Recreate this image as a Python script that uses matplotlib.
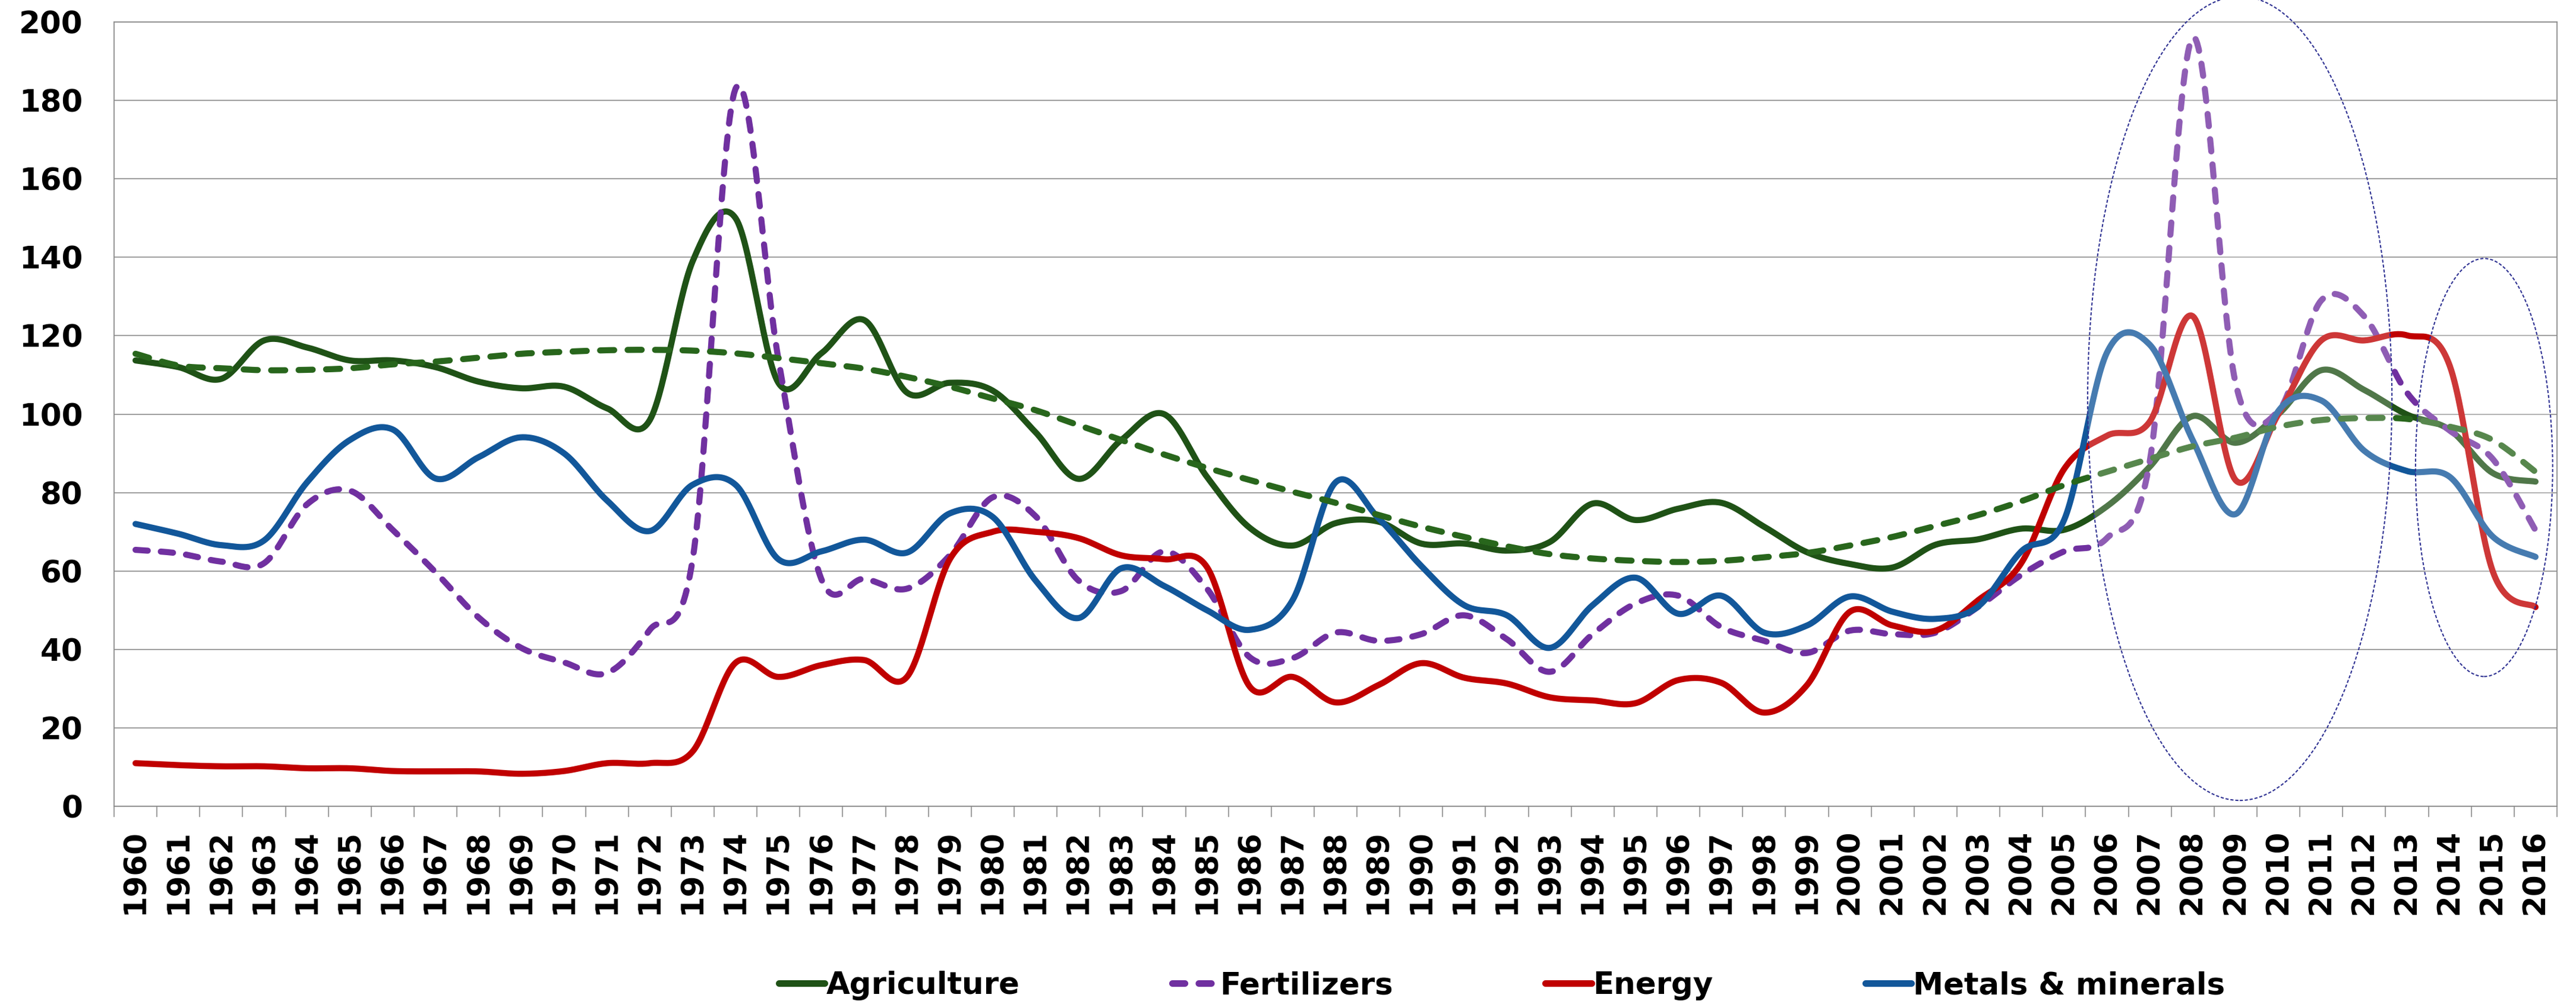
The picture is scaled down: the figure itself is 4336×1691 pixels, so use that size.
import matplotlib
matplotlib.use("Agg")
import matplotlib.pyplot as plt
from matplotlib.patches import Ellipse
from matplotlib.lines import Line2D
import numpy as np

years = list(range(1960, 2017))

agriculture = [113.7, 112, 109, 118.8, 117, 113.7, 113.7, 112, 108.3, 106.6,
               107, 101.5, 98.5, 139, 150, 108, 115.5, 124, 105.5, 108,
               106, 95.4, 83.5, 93.4, 100, 84, 71, 66.5, 72.2, 72.6,
               67, 67, 65.2, 67.4, 77.2, 73, 75.9, 77.4, 71.3, 64.8,
               61.8, 60.9, 66.7, 68.1, 70.8, 70.5, 76.5, 86.6, 99.5, 92.7,
               100, 111.2, 106.2, 99.9, 96, 85, 82.8]

fertilizers = [65.4, 64.5, 62.4, 62, 77, 80.5, 70.5, 59.7, 48.2, 40.4,
               36.7, 34, 45, 63, 183, 114, 58, 58, 55.5, 64,
               78.8, 74, 57.6, 54.9, 65, 55.5, 38, 37.8, 44.3, 42.2,
               43.9, 48.7, 42.6, 34.3, 43.9, 51.7, 53.7, 45.7, 42.2, 39.1,
               44.8, 43.9, 44.3, 50.9, 59, 65, 68.4, 88, 196, 108,
               100.8, 129, 125, 105.5, 95.8, 88.6, 70.4]

energy = [11, 10.5, 10.2, 10.2, 9.7, 9.7, 9, 8.9, 8.9, 8.3,
          9, 11, 11, 14, 36.6, 33, 36, 37.3, 33, 63,
          70, 70, 68.4, 64, 63, 61, 30.5, 33, 26.5, 30.9,
          36.5, 32.8, 31.3, 27.8, 27, 26.3, 32.2, 31.5, 23.9, 30.9,
          49.6, 46.1, 44.8, 52.6, 62, 86, 94.5, 98.1, 125, 83.2,
          100, 118.8, 118.8, 120.1, 112.3, 60, 50.8]

metals = [72, 69.5, 66.6, 67.8, 82.6, 93.4, 96.1, 83.6, 89, 94.1,
          90, 78, 70.2, 82, 82, 63, 65, 68, 64.7, 74.7,
          73.8, 57.6, 48, 60.7, 56.2, 50, 45, 52.6, 82.6, 73.5,
          61.3, 51.3, 48.7, 40.4, 51.3, 58.3, 49.1, 53.7, 44.3, 46.1,
          53.5, 49.6, 47.8, 51, 65, 73, 115.7, 117.7, 93.4, 74.5,
          100.8, 103.5, 90.7, 85.5, 84, 68.8, 63.6]

# agriculture polynomial trend, as drawn
agri_trend = [115.4, 112.4, 111.7, 111.2, 111.3, 111.7, 112.7, 113.4, 114.4, 115.4,
              115.9, 116.3, 116.4, 116.2, 115.5, 114.3, 113, 111.6, 109.5, 107,
              104, 101, 97.2, 93.4, 89.7, 86.3, 83.2, 80.2, 77.4, 74.3,
              71.3, 68.7, 66.3, 64.3, 63.2, 62.6, 62.3, 62.6, 63.5, 64.6,
              66.5, 68.7, 71.5, 74.3, 77.8, 81.9, 85.3, 88.6, 91.8, 94,
              96.8, 98.5, 99, 98.8, 96.8, 93.4, 85.3]

# highlighted periods: (center year index, center value, width, height)
highlights = [(49.1, 104, 7.1, 205), (54.8, 86.4, 3.2, 106.6)]

C_AGR = "#1f5216"
C_TREND = "#28661c"
C_FER = "#7030a0"
C_ENE = "#c00000"
C_MET = "#12579a"


def smooth(y, n=30):
    # excel-like smoothed line: bezier through points, catmull-rom tangents
    y = np.asarray(y, dtype=float)
    x = np.arange(len(y), dtype=float)
    pts = np.column_stack([x, y])
    pts = np.vstack([pts[0], pts, pts[-1]])
    t = np.linspace(0, 1, n)[:, None]
    out = []
    for i in range(1, len(pts) - 2):
        p0, p1, p2, p3 = pts[i - 1], pts[i], pts[i + 1], pts[i + 2]
        c1 = p1 + (p2 - p0) / 6
        c2 = p2 - (p3 - p1) / 6
        seg = ((1 - t) ** 3) * p1 + 3 * ((1 - t) ** 2) * t * c1 + 3 * (1 - t) * t ** 2 * c2 + t ** 3 * p2
        out.append(seg if i == 1 else seg[1:])
    out = np.vstack(out)
    return out[:, 0], out[:, 1]


plt.rcParams["font.family"] = "DejaVu Sans"
plt.rcParams["font.weight"] = "bold"

fig = plt.figure(figsize=(43.36, 16.91), dpi=100)
ax = fig.add_axes([0.0443, 0.1969, 0.9483, 0.7812])

lw = 7.4
x, y = smooth(agriculture)
ax.plot(x, y, color=C_AGR, lw=lw, solid_capstyle="round", zorder=3)
x, y = smooth(fertilizers)
ax.plot(x, y, color=C_FER, lw=lw, dashes=(2.0, 2.15), dash_capstyle="round", zorder=3)
x, y = smooth(energy)
ax.plot(x, y, color=C_ENE, lw=lw, solid_capstyle="round", zorder=3)
x, y = smooth(metals)
ax.plot(x, y, color=C_MET, lw=lw, solid_capstyle="round", zorder=3)
x, y = smooth(agri_trend)
ax.plot(x, y, color=C_TREND, lw=lw, dashes=(2.3, 2.2), dash_capstyle="round", zorder=4)

for cx, cy, w, h in highlights:
    e = Ellipse((cx, cy), w, h, facecolor=(1, 1, 1, 0.22), edgecolor="#2e3192",
                lw=1.5, linestyle=(0, (2.5, 1.5)), clip_on=False, zorder=6)
    ax.add_patch(e)

ax.set_xlim(-0.5, len(years) - 0.5)
ax.set_ylim(0, 200)
ax.set_yticks(range(0, 201, 20))
ax.set_yticklabels([str(v) for v in range(0, 201, 20)], fontsize=37, fontweight="bold")
ax.set_xticks(range(len(years)))
ax.set_xticklabels([str(yr) for yr in years], rotation=90, fontsize=37, fontweight="bold")
ax.set_xticks(np.arange(-0.5, len(years), 1.0), minor=True)
ax.tick_params(axis="x", which="major", length=0, pad=28)
ax.tick_params(axis="x", which="minor", length=13, width=1.2, color="#8c8c8c", direction="out")
ax.tick_params(axis="y", length=0, pad=38)

ax.grid(True, axis="y", color="#8c8c8c", lw=1.2, zorder=0)
ax.set_axisbelow(True)
for s in ax.spines.values():
    s.set_color("#8c8c8c")
    s.set_linewidth(1.3)

handles = [
    Line2D([], [], color=C_AGR, lw=8, solid_capstyle="round"),
    Line2D([], [], color=C_FER, lw=8, dashes=(1.9, 2.1), dash_capstyle="round"),
    Line2D([], [], color=C_ENE, lw=8, solid_capstyle="round"),
    Line2D([], [], color=C_MET, lw=8, solid_capstyle="round"),
]
labels = ["Agriculture", "Fertilizers", "Energy", "Metals & minerals"]
fig.legend(handles, labels, loc="center", bbox_to_anchor=(0.583, 0.0183), ncol=4,
           frameon=False, handlelength=1.5, handletextpad=0.05, columnspacing=5,
           prop={"size": 37, "weight": "bold"})

fig.savefig("out.png", dpi=100, facecolor="white")
